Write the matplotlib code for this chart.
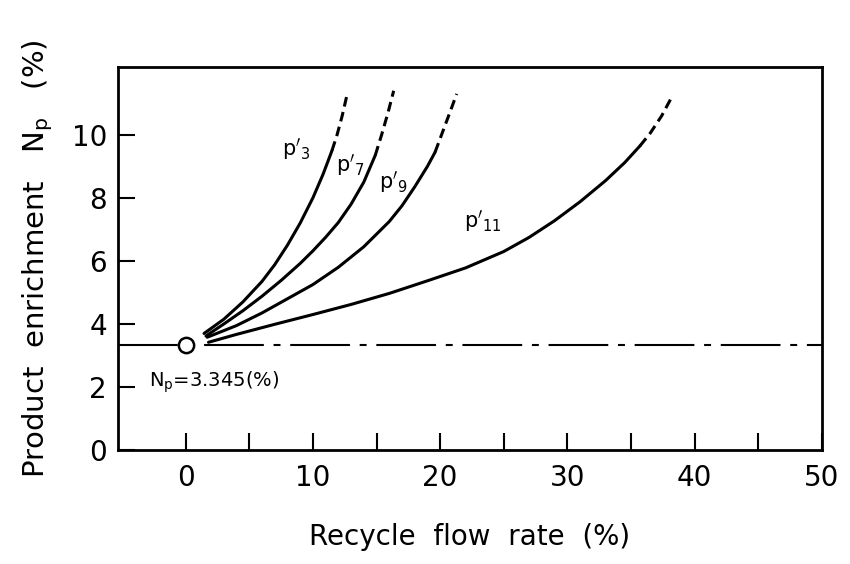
import numpy as np
import matplotlib
matplotlib.use("Agg")
import matplotlib.pyplot as plt

plt.rcParams['font.family'] = ['DejaVu Sans']
plt.rcParams['mathtext.fontset'] = 'dejavusans'
plt.rcParams['lines.scale_dashes'] = False

# values (recycle flow rate %, product enrichment %)
p3_x = [1.45, 3.0, 4.5, 6.0, 7.0, 8.0, 9.0, 10.0, 10.8, 11.5]
p3_y = [3.70, 4.15, 4.70, 5.35, 5.88, 6.50, 7.20, 8.00, 8.75, 9.50]
p3_dash_x = [11.5, 11.9, 12.3, 12.7]
p3_dash_y = [9.50, 10.0, 10.6, 11.3]

p7_x = [1.6, 3.0, 4.5, 6.0, 7.5, 9.0, 10.0, 11.0, 12.0, 13.0, 14.0, 14.9]
p7_y = [3.62, 4.00, 4.42, 4.88, 5.38, 5.92, 6.32, 6.75, 7.22, 7.80, 8.50, 9.35]
p7_dash_x = [14.9, 15.4, 15.9, 16.35]
p7_dash_y = [9.35, 10.0, 10.7, 11.4]

p9_x = [1.7, 4.0, 6.0, 8.0, 10.0, 12.0, 14.0, 16.0, 17.0, 18.0, 19.0, 19.6]
p9_y = [3.58, 3.95, 4.35, 4.80, 5.25, 5.80, 6.45, 7.25, 7.75, 8.35, 9.00, 9.45]
p9_dash_x = [19.6, 20.2, 20.8, 21.3]
p9_dash_y = [9.45, 10.1, 10.75, 11.3]

p11_x = [1.8, 4.0, 7.0, 10.0, 13.0, 16.0, 19.0, 22.0, 25.0, 27.0,
         29.0, 31.0, 33.0, 34.5, 35.7]
p11_y = [3.42, 3.67, 3.99, 4.30, 4.62, 4.97, 5.37, 5.78, 6.30, 6.75,
         7.28, 7.88, 8.55, 9.12, 9.65]
p11_dash_x = [35.7, 36.5, 37.4, 38.2]
p11_dash_y = [9.65, 10.05, 10.6, 11.2]

np_base = 3.345
x_ticks = [0, 10, 20, 30, 40, 50]
y_ticks = [0, 2, 4, 6, 8, 10]

fig = plt.figure(figsize=(8.5, 5.64), dpi=100)
ax = fig.add_axes([0.139, 0.202, 0.828, 0.679])

ax.axhline(np_base, color='black', lw=1.5, dashes=(43, 7, 5, 7))
ax.plot([0], [np_base], marker='o', ms=11, mfc='white', mec='black', mew=1.8, zorder=5)

for xs, ys, dx, dy in [(p3_x, p3_y, p3_dash_x, p3_dash_y),
                       (p7_x, p7_y, p7_dash_x, p7_dash_y),
                       (p9_x, p9_y, p9_dash_x, p9_dash_y),
                       (p11_x, p11_y, p11_dash_x, p11_dash_y)]:
    ax.plot(xs, ys, color='black', lw=2.2, solid_capstyle='round', solid_joinstyle='round')
    ax.plot(dx, dy, color='black', lw=2.2, dashes=(7, 4))

ax.text(7.6, 9.35, r"$\mathrm{p}'_{3}$", fontsize=15)
ax.text(11.8, 8.85, r"$\mathrm{p}'_{7}$", fontsize=15)
ax.text(15.2, 8.3, r"$\mathrm{p}'_{9}$", fontsize=15)
ax.text(21.9, 7.05, r"$\mathrm{p}'_{11}$", fontsize=15)
ax.text(-2.9, 2.0, r"$\mathrm{N_p}$" + "=3.345(%)", fontsize=14)

ax.set_xlim(-5.3, 50)
ax.set_ylim(0, 12.15)
ax.set_xticks(x_ticks)
ax.set_xticks(np.arange(5, 50, 10), minor=True)
ax.set_yticks(y_ticks)
ax.tick_params(which='both', direction='in', length=12, width=1.5)
ax.tick_params(axis='x', labelsize=20, pad=10)
ax.tick_params(axis='y', labelsize=20, pad=8)
for s in ax.spines.values():
    s.set_linewidth(2)

ax.set_xlabel("Recycle  flow  rate  (%)", fontsize=20, labelpad=22)
ax.set_ylabel(r"Product  enrichment   $\mathrm{N_p}$   (%)", fontsize=21, labelpad=12)

fig.savefig("out.png", dpi=100)
